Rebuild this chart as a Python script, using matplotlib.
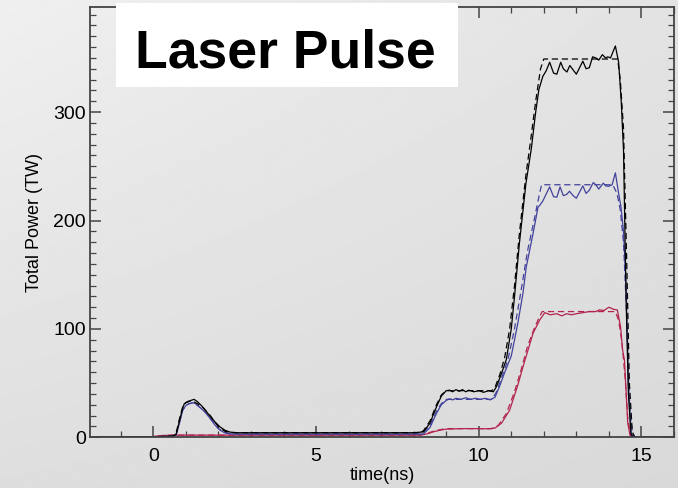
import numpy as np
import matplotlib
matplotlib.use("Agg")
from matplotlib import pyplot as plt
from matplotlib.ticker import MultipleLocator

plt.rcParams['font.family'] = ['Liberation Sans', 'DejaVu Sans']

# measured total power (solid) and requested power (dashed), TW vs ns
t_all = [-2, 0, 0.6, 0.7, 0.8, 0.9, 0.95, 1.05, 1.15, 1.25, 1.35, 1.5, 1.6, 1.75,
         1.9, 2.05, 2.2, 2.35, 2.6, 8.0, 8.3, 8.5, 8.7, 8.85, 9.0, 9.1, 9.2, 9.3,
         9.4, 9.5, 9.6, 9.7, 9.85, 10.0, 10.15, 10.3, 10.45, 10.55, 10.7, 10.85,
         11.0, 11.1, 11.25, 11.45, 11.62, 11.75, 11.85, 11.97, 12.07, 12.18, 12.3,
         12.4, 12.52, 12.6, 12.71, 12.8, 13.0, 13.2, 13.3, 13.4, 13.5, 13.6, 13.69,
         13.8, 13.9, 13.97, 14.05, 14.2, 14.3, 14.38, 14.45, 14.53, 14.6, 14.68,
         14.75, 16]
p_all = [0, 0.5, 1, 3, 15, 27, 31, 33, 34, 35, 33, 28.5, 25, 19,
         14, 9.5, 6.5, 4.8, 4.2, 4.2, 5, 13, 28, 38, 43, 43.5, 42, 44,
         42.5, 44, 42, 43.5, 42, 43, 41.5, 43, 42, 47, 59, 72,
         100, 130, 179, 234, 267, 300, 321, 333, 338, 346, 336,
         335, 346, 340, 337, 343, 335, 347, 340, 341, 351, 350, 348,
         353, 350, 351, 350, 361, 346, 310, 265, 127, 40, 3,
         0, 0]

t_all_req = [-2, 0, 0.6, 0.7, 0.8, 0.9, 1.0, 1.1, 1.2, 1.35, 1.5, 1.75, 2.0, 2.2,
             2.4, 8.2, 8.3, 8.5, 8.7, 8.85, 9.0, 10.4, 10.5, 10.65, 10.8, 10.95,
             11.1, 11.25, 11.45, 11.6, 11.75, 11.9, 12.0, 14.27, 14.35, 14.45,
             14.55, 14.63, 14.72, 14.8, 16]
p_all_req = [0, 0.5, 1, 4, 17, 28, 32, 33, 33.5, 31, 28, 20, 9.5, 5.5,
             4.3, 4.3, 6, 15, 30, 39, 43, 43, 46, 58, 74, 100,
             140, 188, 242, 275, 310, 340, 349, 349, 330, 285,
             160, 50, 5, 0, 0]

t_blue = [-2, 0, 0.6, 0.7, 0.8, 0.9, 1.0, 1.1, 1.2, 1.3, 1.45, 1.6, 1.75, 1.9,
          2.05, 2.2, 2.4, 8.3, 8.5, 8.7, 8.85, 9.0, 9.1, 9.2, 9.3, 9.45, 9.6,
          9.75, 9.9, 10.05, 10.2, 10.35, 10.5, 10.64, 10.8, 11.0, 11.2, 11.36,
          11.46, 11.67, 11.82, 11.9, 11.97, 12.18, 12.3, 12.4, 12.5, 12.6, 12.7,
          12.79, 12.9, 13.0, 13.2, 13.3, 13.4, 13.52, 13.6, 13.69, 13.83, 13.9,
          13.99, 14.1, 14.2, 14.3, 14.37, 14.45, 14.53, 14.6, 14.68, 14.75, 16]
p_blue = [0, 0.5, 1, 2, 13, 25, 29.5, 31, 32, 31, 27, 23, 17, 11,
          6.5, 4, 3, 3, 9, 22, 30, 34, 35.5, 34.5, 36, 35, 36.5,
          35, 36, 35, 36, 34.5, 37, 47, 60, 75, 105, 133,
          157, 188, 212, 215, 218, 231, 222, 221.5, 231, 223, 224,
          227, 223, 220.5, 232, 225, 228, 235, 233, 229, 234.5, 232,
          231.5, 233, 244, 225, 213, 190, 140, 50, 4, 0, 0]

t_blue_req = [-2, 0, 0.6, 0.7, 0.8, 0.9, 1.0, 1.1, 1.2, 1.35, 1.5, 1.75, 2.0,
              2.2, 2.4, 8.25, 8.5, 8.7, 8.85, 9.0, 10.4, 10.55, 10.7, 10.9, 11.1,
              11.3, 11.5, 11.7, 11.85, 11.93, 14.12, 14.25, 14.35, 14.45, 14.55,
              14.63, 14.72, 14.8, 16]
p_blue_req = [0, 0.5, 1, 3, 14, 25, 29.5, 31, 31.5, 29.5, 26, 18, 8,
              4.5, 3, 3, 11, 24, 31, 35, 35, 42, 55, 72, 100,
              135, 172, 200, 222, 233, 233, 225, 210, 180, 110,
              35, 3, 0, 0]

t_red = [-2, -0.2, 0.2, 0.6, 2.0, 8.2, 8.4, 8.6, 8.8, 9.0, 9.5, 10.0, 10.3, 10.5,
         10.7, 10.95, 11.2, 11.36, 11.56, 11.67, 11.87, 12.03, 12.2, 12.4, 12.55,
         12.7, 12.85, 13.0, 13.2, 13.4, 13.6, 13.7, 13.85, 14.0, 14.15, 14.26,
         14.36, 14.42, 14.48, 14.58, 14.65, 14.7, 16]
p_red = [0, 0, 1.5, 2, 2, 2, 3, 5, 6.5, 7.5, 8, 8, 7.8, 8.5,
         13, 25, 48, 65, 85, 96, 108, 115, 113, 114, 112,
         114, 113, 114, 115, 116, 116, 117.5, 117, 120, 118, 117.5,
         102, 81, 71, 13, 2, 0, 0]

t_red_req = [-2, -0.2, 0.2, 0.6, 2.0, 8.2, 8.4, 8.6, 8.8, 9.0, 10.4, 10.6, 10.85,
             11.1, 11.3, 11.5, 11.7, 11.85, 11.95, 14.2, 14.3, 14.4, 14.5, 14.58,
             14.66, 14.72, 16]
p_red_req = [0, 0, 1.5, 2, 2, 2, 3.5, 5.5, 7, 8, 8, 11, 22,
             42, 62, 84, 100, 110, 116, 116, 108, 88, 55, 18,
             3, 0, 0]

BLUE = '#42429c'
RED = '#b3234e'

fig = plt.figure(figsize=(6.78, 4.88), dpi=100)

# soft grey backdrop
bg = fig.add_axes([0, 0, 1, 1], zorder=-10)
xx, yy = np.meshgrid(np.linspace(0, 1, 200), np.linspace(0, 1, 200))
shade = (0.94 * (1 - xx) * (1 - yy) + 0.89 * xx * (1 - yy)
         + 0.87 * (1 - xx) * yy + 0.85 * xx * yy)
bg.imshow(shade, cmap='gray', vmin=0, vmax=1, aspect='auto',
          extent=[0, 1, 0, 1], origin='upper')
bg.axis('off')

ax = fig.add_axes([0.1327, 0.1039, 0.8613, 0.8818])
ax.set_facecolor('none')

lw = 0.9
dash = (0, (5, 3))
ax.plot(t_red_req, p_red_req, color=RED, lw=lw, ls=dash)
ax.plot(t_red, p_red, color=RED, lw=lw)
ax.plot(t_blue_req, p_blue_req, color=BLUE, lw=lw, ls=dash)
ax.plot(t_blue, p_blue, color=BLUE, lw=lw)
ax.plot(t_all_req, p_all_req, color='black', lw=lw, ls=dash)
ax.plot(t_all, p_all, color='black', lw=lw)

ax.set_xlim(-1.95, 16)
ax.set_ylim(0, 397)
ax.xaxis.set_major_locator(MultipleLocator(5))
ax.xaxis.set_minor_locator(MultipleLocator(1))
ax.yaxis.set_major_locator(MultipleLocator(100))
ax.yaxis.set_minor_locator(MultipleLocator(10))
ax.tick_params(which='both', direction='in', top=True, right=True,
               color='#444444', labelsize=14, labelcolor='black')
ax.tick_params(which='major', length=8, width=1.1)
ax.tick_params(which='minor', length=4, width=0.9)
ax.tick_params(axis='x', which='major', pad=8)
ax.tick_params(axis='y', which='major', pad=3)
for s in ax.spines.values():
    s.set_color('#444444')
    s.set_linewidth(1.3)

ax.set_xlabel('time(ns)', fontsize=13, labelpad=1)
ax.set_ylabel('Total Power (TW)', fontsize=13, labelpad=7)

# title box over the top of the frame
fig.patches.append(plt.Rectangle((116 / 678, 1 - 87 / 488), 342 / 678, 84 / 488,
                                 transform=fig.transFigure, facecolor='white',
                                 edgecolor='none', zorder=15))
fig.text(0.4215, 1 - 67 / 488, 'Laser Pulse', fontsize=38.5, fontweight='bold',
         ha='center', va='baseline', zorder=20)

fig.savefig('out.png', dpi=100)
